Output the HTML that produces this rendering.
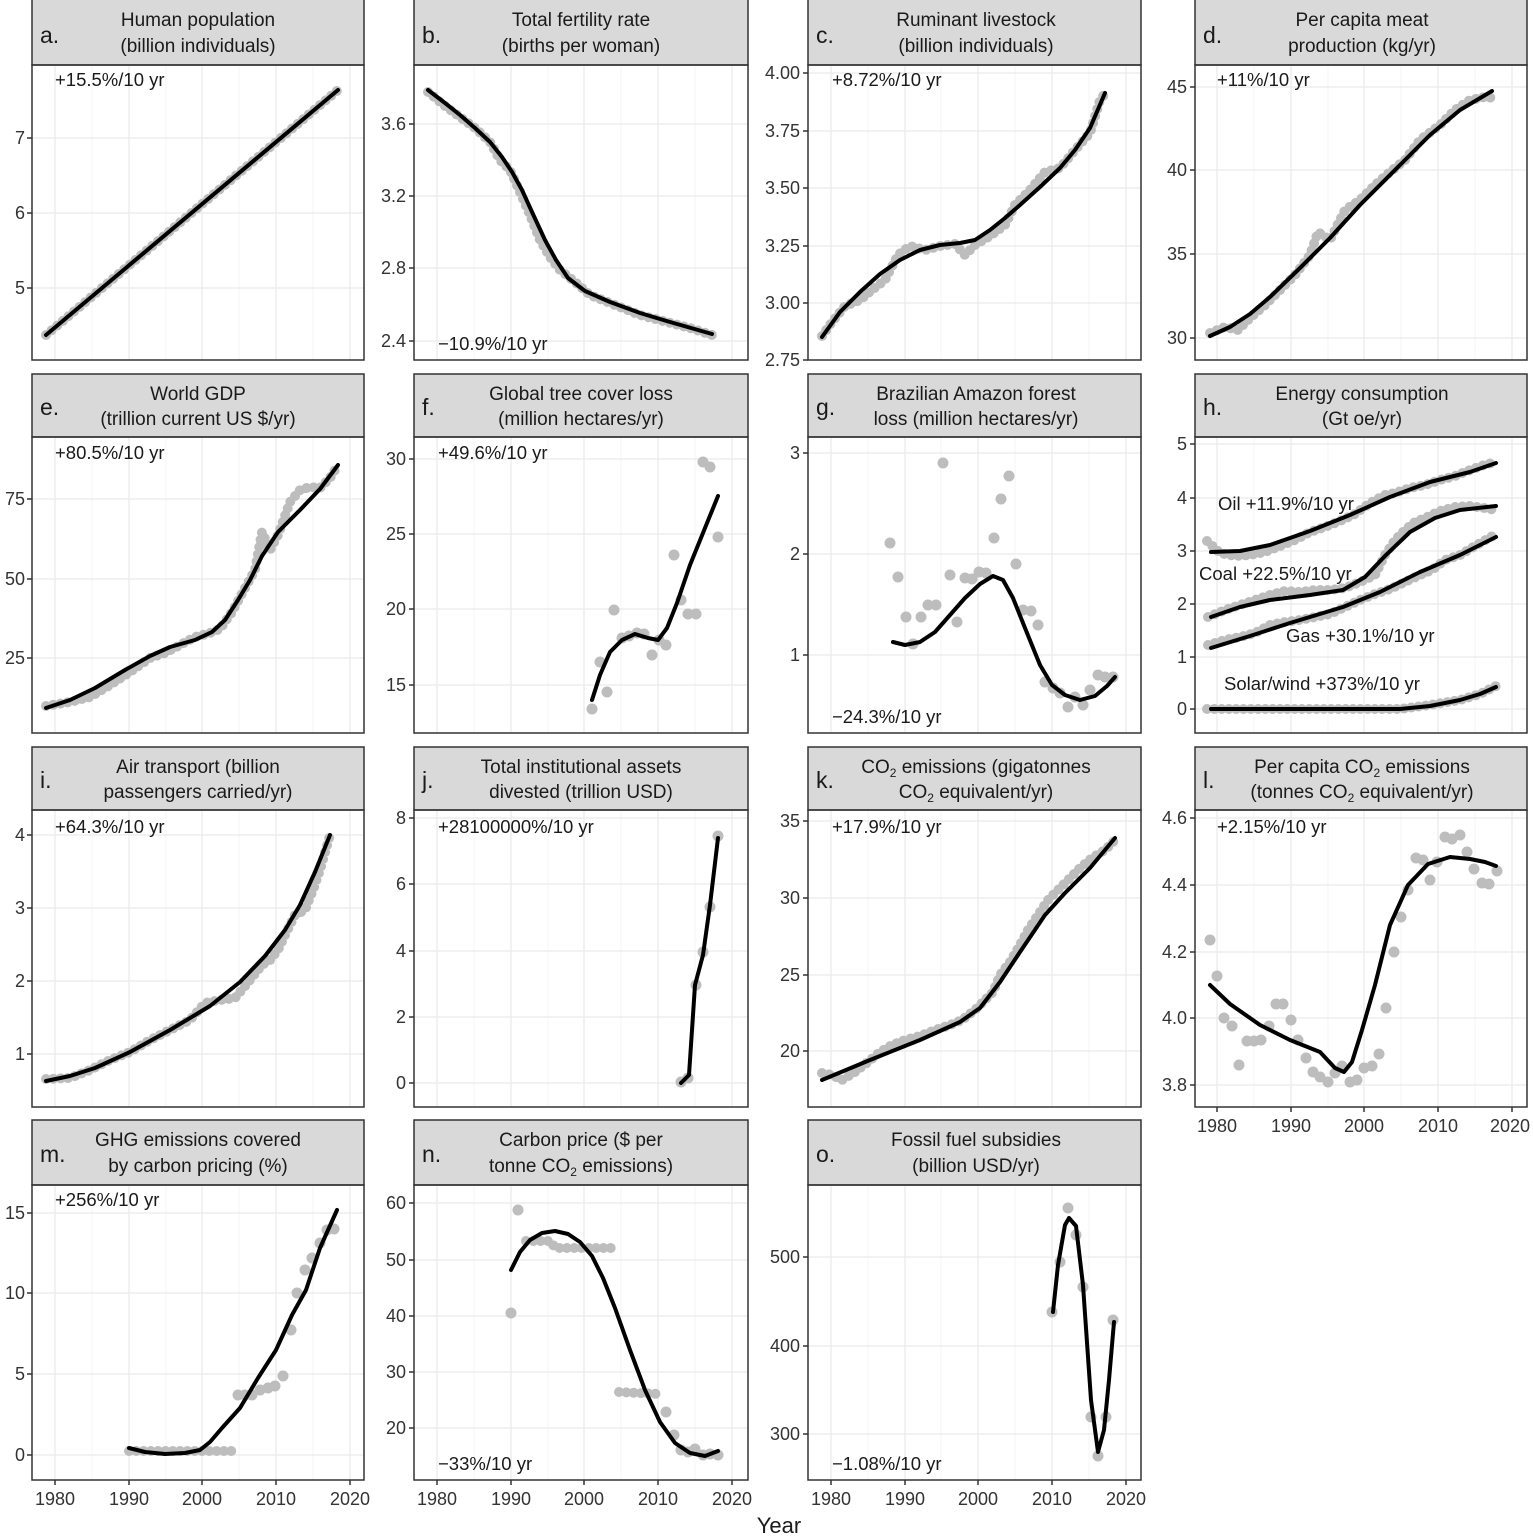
<!DOCTYPE html>
<html><head><meta charset="utf-8"><style>
html,body{margin:0;padding:0;background:#fff}
svg{display:block}
text{font-family:"Liberation Sans",Arial,sans-serif;fill:#1a1a1a}
.t{font-size:18.5px}
.h{font-size:19px;text-anchor:middle}
.l{font-size:23px}
.y{font-size:18px;text-anchor:end;fill:#333}
.x{font-size:18px;text-anchor:middle;fill:#333}
.s{fill:#d9d9d9;stroke:#333;stroke-width:1.5}
.p{fill:none;stroke:#333;stroke-width:1.5}
.g line{stroke:#ebebeb;stroke-width:1.3}
.m line{stroke:#f4f4f4;stroke-width:1}
.k line{stroke:#333;stroke-width:1.5}
.d{fill:none;stroke:#bdbdbd;stroke-width:10;stroke-linecap:round;stroke-dasharray:0 7.3}
.c circle{fill:#bdbdbd}
.ln{fill:none;stroke:#000;stroke-width:4;stroke-linejoin:round;stroke-linecap:round}
</style></head><body>
<svg width="1533" height="1536" viewBox="0 0 1533 1536" xmlns="http://www.w3.org/2000/svg">

<g class="m">
<line x1="92" y1="66" x2="92" y2="1480"/><line x1="166" y1="66" x2="166" y2="1480"/><line x1="239" y1="66" x2="239" y2="1480"/><line x1="313" y1="66" x2="313" y2="1480"/>
<line x1="474" y1="66" x2="474" y2="1480"/><line x1="548" y1="66" x2="548" y2="1480"/><line x1="621" y1="66" x2="621" y2="1480"/><line x1="695" y1="66" x2="695" y2="1480"/>
<line x1="868" y1="66" x2="868" y2="1480"/><line x1="941" y1="66" x2="941" y2="1480"/><line x1="1015" y1="66" x2="1015" y2="1480"/><line x1="1089" y1="66" x2="1089" y2="1480"/>
<line x1="1254" y1="66" x2="1254" y2="1107"/><line x1="1328" y1="66" x2="1328" y2="1107"/><line x1="1401" y1="66" x2="1401" y2="1107"/><line x1="1475" y1="66" x2="1475" y2="1107"/>
</g>
<g class="g">
<line x1="55" y1="66" x2="55" y2="1480"/><line x1="129" y1="66" x2="129" y2="1480"/><line x1="202" y1="66" x2="202" y2="1480"/><line x1="276" y1="66" x2="276" y2="1480"/><line x1="350" y1="66" x2="350" y2="1480"/>
<line x1="437" y1="66" x2="437" y2="1480"/><line x1="511" y1="66" x2="511" y2="1480"/><line x1="584" y1="66" x2="584" y2="1480"/><line x1="658" y1="66" x2="658" y2="1480"/><line x1="732" y1="66" x2="732" y2="1480"/>
<line x1="831" y1="66" x2="831" y2="1480"/><line x1="905" y1="66" x2="905" y2="1480"/><line x1="978" y1="66" x2="978" y2="1480"/><line x1="1052" y1="66" x2="1052" y2="1480"/><line x1="1126" y1="66" x2="1126" y2="1480"/>
<line x1="1217" y1="66" x2="1217" y2="1107"/><line x1="1291" y1="66" x2="1291" y2="1107"/><line x1="1364" y1="66" x2="1364" y2="1107"/><line x1="1438" y1="66" x2="1438" y2="1107"/><line x1="1512" y1="66" x2="1512" y2="1107"/>
</g>
<rect x="0" y="360" width="1533" height="78" fill="#fff"/>
<rect x="0" y="733" width="1533" height="78" fill="#fff"/>
<rect x="0" y="1107" width="1533" height="79" fill="#fff"/>

<g class="g">
<line x1="32" y1="138" x2="364" y2="138"/><line x1="32" y1="213" x2="364" y2="213"/><line x1="32" y1="288" x2="364" y2="288"/>
<line x1="414" y1="124" x2="748" y2="124"/><line x1="414" y1="196" x2="748" y2="196"/><line x1="414" y1="268" x2="748" y2="268"/><line x1="414" y1="341" x2="748" y2="341"/>
<line x1="808" y1="73" x2="1141" y2="73"/><line x1="808" y1="131" x2="1141" y2="131"/><line x1="808" y1="188" x2="1141" y2="188"/><line x1="808" y1="246" x2="1141" y2="246"/><line x1="808" y1="303" x2="1141" y2="303"/>
<line x1="1195" y1="87" x2="1527" y2="87"/><line x1="1195" y1="170" x2="1527" y2="170"/><line x1="1195" y1="254" x2="1527" y2="254"/><line x1="1195" y1="338" x2="1527" y2="338"/>
<line x1="32" y1="499" x2="364" y2="499"/><line x1="32" y1="579" x2="364" y2="579"/><line x1="32" y1="658" x2="364" y2="658"/>
<line x1="414" y1="459" x2="748" y2="459"/><line x1="414" y1="534" x2="748" y2="534"/><line x1="414" y1="609" x2="748" y2="609"/><line x1="414" y1="685" x2="748" y2="685"/>
<line x1="808" y1="453" x2="1141" y2="453"/><line x1="808" y1="554" x2="1141" y2="554"/><line x1="808" y1="655" x2="1141" y2="655"/>
<line x1="1195" y1="444" x2="1527" y2="444"/><line x1="1195" y1="498" x2="1527" y2="498"/><line x1="1195" y1="551" x2="1527" y2="551"/><line x1="1195" y1="604" x2="1527" y2="604"/><line x1="1195" y1="657" x2="1527" y2="657"/><line x1="1195" y1="709" x2="1527" y2="709"/>
<line x1="32" y1="835" x2="364" y2="835"/><line x1="32" y1="908" x2="364" y2="908"/><line x1="32" y1="981" x2="364" y2="981"/><line x1="32" y1="1054" x2="364" y2="1054"/>
<line x1="414" y1="818" x2="748" y2="818"/><line x1="414" y1="884" x2="748" y2="884"/><line x1="414" y1="951" x2="748" y2="951"/><line x1="414" y1="1017" x2="748" y2="1017"/><line x1="414" y1="1083" x2="748" y2="1083"/>
<line x1="808" y1="821" x2="1141" y2="821"/><line x1="808" y1="898" x2="1141" y2="898"/><line x1="808" y1="975" x2="1141" y2="975"/><line x1="808" y1="1051" x2="1141" y2="1051"/>
<line x1="1195" y1="818" x2="1527" y2="818"/><line x1="1195" y1="885" x2="1527" y2="885"/><line x1="1195" y1="952" x2="1527" y2="952"/><line x1="1195" y1="1018" x2="1527" y2="1018"/><line x1="1195" y1="1085" x2="1527" y2="1085"/>
<line x1="32" y1="1213" x2="364" y2="1213"/><line x1="32" y1="1293" x2="364" y2="1293"/><line x1="32" y1="1374" x2="364" y2="1374"/><line x1="32" y1="1455" x2="364" y2="1455"/>
<line x1="414" y1="1203" x2="748" y2="1203"/><line x1="414" y1="1260" x2="748" y2="1260"/><line x1="414" y1="1316" x2="748" y2="1316"/><line x1="414" y1="1372" x2="748" y2="1372"/><line x1="414" y1="1428" x2="748" y2="1428"/>
<line x1="808" y1="1257" x2="1141" y2="1257"/><line x1="808" y1="1346" x2="1141" y2="1346"/><line x1="808" y1="1434" x2="1141" y2="1434"/>
</g>

<g>
<rect class="s" x="32" y="-2" width="332" height="67"/><rect class="p" x="32" y="65" width="332" height="295"/>
<rect class="s" x="414" y="-2" width="334" height="67"/><rect class="p" x="414" y="65" width="334" height="295"/>
<rect class="s" x="808" y="-2" width="333" height="67"/><rect class="p" x="808" y="65" width="333" height="295"/>
<rect class="s" x="1195" y="-2" width="332" height="67"/><rect class="p" x="1195" y="65" width="332" height="295"/>
<rect class="s" x="32" y="374" width="332" height="63"/><rect class="p" x="32" y="437" width="332" height="296"/>
<rect class="s" x="414" y="374" width="334" height="63"/><rect class="p" x="414" y="437" width="334" height="296"/>
<rect class="s" x="808" y="374" width="333" height="63"/><rect class="p" x="808" y="437" width="333" height="296"/>
<rect class="s" x="1195" y="374" width="332" height="63"/><rect class="p" x="1195" y="437" width="332" height="296"/>
<rect class="s" x="32" y="747" width="332" height="63"/><rect class="p" x="32" y="810" width="332" height="297"/>
<rect class="s" x="414" y="747" width="334" height="63"/><rect class="p" x="414" y="810" width="334" height="297"/>
<rect class="s" x="808" y="747" width="333" height="63"/><rect class="p" x="808" y="810" width="333" height="297"/>
<rect class="s" x="1195" y="747" width="332" height="63"/><rect class="p" x="1195" y="810" width="332" height="297"/>
<rect class="s" x="32" y="1120" width="332" height="65"/><rect class="p" x="32" y="1185" width="332" height="295"/>
<rect class="s" x="414" y="1120" width="334" height="65"/><rect class="p" x="414" y="1185" width="334" height="295"/>
<rect class="s" x="808" y="1120" width="333" height="65"/><rect class="p" x="808" y="1185" width="333" height="295"/>
</g>

<g>
<text class="l" x="40" y="43">a.</text><text class="h" x="198" y="26">Human population</text><text class="h" x="198" y="52">(billion individuals)</text>
<text class="l" x="422" y="43">b.</text><text class="h" x="581" y="26">Total fertility rate</text><text class="h" x="581" y="52">(births per woman)</text>
<text class="l" x="816" y="43">c.</text><text class="h" x="976" y="26">Ruminant livestock</text><text class="h" x="976" y="52">(billion individuals)</text>
<text class="l" x="1203" y="43">d.</text><text class="h" x="1362" y="26">Per capita meat</text><text class="h" x="1362" y="52">production (kg/yr)</text>
<text class="l" x="40" y="415">e.</text><text class="h" x="198" y="400">World GDP</text><text class="h" x="198" y="425">(trillion current US $/yr)</text>
<text class="l" x="422" y="415">f.</text><text class="h" x="581" y="400">Global tree cover loss</text><text class="h" x="581" y="425">(million hectares/yr)</text>
<text class="l" x="816" y="415">g.</text><text class="h" x="976" y="400">Brazilian Amazon forest</text><text class="h" x="976" y="425">loss (million hectares/yr)</text>
<text class="l" x="1203" y="415">h.</text><text class="h" x="1362" y="400">Energy consumption</text><text class="h" x="1362" y="425">(Gt oe/yr)</text>
<text class="l" x="40" y="788">i.</text><text class="h" x="198" y="773">Air transport (billion</text><text class="h" x="198" y="798">passengers carried/yr)</text>
<text class="l" x="422" y="788">j.</text><text class="h" x="581" y="773">Total institutional assets</text><text class="h" x="581" y="798">divested (trillion USD)</text>
<text class="l" x="816" y="788">k.</text><text class="h" x="976" y="773">CO<tspan font-size="12" dy="4">2</tspan><tspan dy="-4"> emissions (gigatonnes</tspan></text><text class="h" x="976" y="798">CO<tspan font-size="12" dy="4">2</tspan><tspan dy="-4"> equivalent/yr)</tspan></text>
<text class="l" x="1203" y="788">l.</text><text class="h" x="1362" y="773">Per capita CO<tspan font-size="12" dy="4">2</tspan><tspan dy="-4"> emissions</tspan></text><text class="h" x="1362" y="798">(tonnes CO<tspan font-size="12" dy="4">2</tspan><tspan dy="-4"> equivalent/yr)</tspan></text>
<text class="l" x="40" y="1162">m.</text><text class="h" x="198" y="1146">GHG emissions covered</text><text class="h" x="198" y="1172">by carbon pricing (%)</text>
<text class="l" x="422" y="1162">n.</text><text class="h" x="581" y="1146">Carbon price ($ per</text><text class="h" x="581" y="1172">tonne CO<tspan font-size="12" dy="4">2</tspan><tspan dy="-4"> emissions)</tspan></text>
<text class="l" x="816" y="1162">o.</text><text class="h" x="976" y="1146">Fossil fuel subsidies</text><text class="h" x="976" y="1172">(billion USD/yr)</text>
</g>

<g class="k">
<line x1="27" y1="138" x2="32" y2="138"/><line x1="27" y1="213" x2="32" y2="213"/><line x1="27" y1="288" x2="32" y2="288"/>
<line x1="409" y1="124" x2="414" y2="124"/><line x1="409" y1="196" x2="414" y2="196"/><line x1="409" y1="268" x2="414" y2="268"/><line x1="409" y1="341" x2="414" y2="341"/>
<line x1="803" y1="73" x2="808" y2="73"/><line x1="803" y1="131" x2="808" y2="131"/><line x1="803" y1="188" x2="808" y2="188"/><line x1="803" y1="246" x2="808" y2="246"/><line x1="803" y1="303" x2="808" y2="303"/><line x1="803" y1="360" x2="808" y2="360"/>
<line x1="1190" y1="87" x2="1195" y2="87"/><line x1="1190" y1="170" x2="1195" y2="170"/><line x1="1190" y1="254" x2="1195" y2="254"/><line x1="1190" y1="338" x2="1195" y2="338"/>
<line x1="27" y1="499" x2="32" y2="499"/><line x1="27" y1="579" x2="32" y2="579"/><line x1="27" y1="658" x2="32" y2="658"/>
<line x1="409" y1="459" x2="414" y2="459"/><line x1="409" y1="534" x2="414" y2="534"/><line x1="409" y1="609" x2="414" y2="609"/><line x1="409" y1="685" x2="414" y2="685"/>
<line x1="803" y1="453" x2="808" y2="453"/><line x1="803" y1="554" x2="808" y2="554"/><line x1="803" y1="655" x2="808" y2="655"/>
<line x1="1190" y1="444" x2="1195" y2="444"/><line x1="1190" y1="498" x2="1195" y2="498"/><line x1="1190" y1="551" x2="1195" y2="551"/><line x1="1190" y1="604" x2="1195" y2="604"/><line x1="1190" y1="657" x2="1195" y2="657"/><line x1="1190" y1="709" x2="1195" y2="709"/>
<line x1="27" y1="835" x2="32" y2="835"/><line x1="27" y1="908" x2="32" y2="908"/><line x1="27" y1="981" x2="32" y2="981"/><line x1="27" y1="1054" x2="32" y2="1054"/>
<line x1="409" y1="818" x2="414" y2="818"/><line x1="409" y1="884" x2="414" y2="884"/><line x1="409" y1="951" x2="414" y2="951"/><line x1="409" y1="1017" x2="414" y2="1017"/><line x1="409" y1="1083" x2="414" y2="1083"/>
<line x1="803" y1="821" x2="808" y2="821"/><line x1="803" y1="898" x2="808" y2="898"/><line x1="803" y1="975" x2="808" y2="975"/><line x1="803" y1="1051" x2="808" y2="1051"/>
<line x1="1190" y1="818" x2="1195" y2="818"/><line x1="1190" y1="885" x2="1195" y2="885"/><line x1="1190" y1="952" x2="1195" y2="952"/><line x1="1190" y1="1018" x2="1195" y2="1018"/><line x1="1190" y1="1085" x2="1195" y2="1085"/>
<line x1="27" y1="1213" x2="32" y2="1213"/><line x1="27" y1="1293" x2="32" y2="1293"/><line x1="27" y1="1374" x2="32" y2="1374"/><line x1="27" y1="1455" x2="32" y2="1455"/>
<line x1="409" y1="1203" x2="414" y2="1203"/><line x1="409" y1="1260" x2="414" y2="1260"/><line x1="409" y1="1316" x2="414" y2="1316"/><line x1="409" y1="1372" x2="414" y2="1372"/><line x1="409" y1="1428" x2="414" y2="1428"/>
<line x1="803" y1="1257" x2="808" y2="1257"/><line x1="803" y1="1346" x2="808" y2="1346"/><line x1="803" y1="1434" x2="808" y2="1434"/>
<line x1="1217" y1="1107" x2="1217" y2="1112"/><line x1="1291" y1="1107" x2="1291" y2="1112"/><line x1="1364" y1="1107" x2="1364" y2="1112"/><line x1="1438" y1="1107" x2="1438" y2="1112"/><line x1="1512" y1="1107" x2="1512" y2="1112"/>
<line x1="55" y1="1480" x2="55" y2="1485"/><line x1="129" y1="1480" x2="129" y2="1485"/><line x1="202" y1="1480" x2="202" y2="1485"/><line x1="276" y1="1480" x2="276" y2="1485"/><line x1="350" y1="1480" x2="350" y2="1485"/>
<line x1="437" y1="1480" x2="437" y2="1485"/><line x1="511" y1="1480" x2="511" y2="1485"/><line x1="584" y1="1480" x2="584" y2="1485"/><line x1="658" y1="1480" x2="658" y2="1485"/><line x1="732" y1="1480" x2="732" y2="1485"/>
<line x1="831" y1="1480" x2="831" y2="1485"/><line x1="905" y1="1480" x2="905" y2="1485"/><line x1="978" y1="1480" x2="978" y2="1485"/><line x1="1052" y1="1480" x2="1052" y2="1485"/><line x1="1126" y1="1480" x2="1126" y2="1485"/>
</g>

<g>
<text class="y" x="25" y="144">7</text><text class="y" x="25" y="219">6</text><text class="y" x="25" y="294">5</text>
<text class="y" x="406" y="130">3.6</text><text class="y" x="406" y="202">3.2</text><text class="y" x="406" y="274">2.8</text><text class="y" x="406" y="347">2.4</text>
<text class="y" x="800" y="79">4.00</text><text class="y" x="800" y="137">3.75</text><text class="y" x="800" y="194">3.50</text><text class="y" x="800" y="252">3.25</text><text class="y" x="800" y="309">3.00</text><text class="y" x="800" y="366">2.75</text>
<text class="y" x="1187" y="93">45</text><text class="y" x="1187" y="176">40</text><text class="y" x="1187" y="260">35</text><text class="y" x="1187" y="344">30</text>
<text class="y" x="25" y="505">75</text><text class="y" x="25" y="585">50</text><text class="y" x="25" y="664">25</text>
<text class="y" x="406" y="465">30</text><text class="y" x="406" y="540">25</text><text class="y" x="406" y="615">20</text><text class="y" x="406" y="691">15</text>
<text class="y" x="800" y="459">3</text><text class="y" x="800" y="560">2</text><text class="y" x="800" y="661">1</text>
<text class="y" x="1187" y="450">5</text><text class="y" x="1187" y="504">4</text><text class="y" x="1187" y="557">3</text><text class="y" x="1187" y="610">2</text><text class="y" x="1187" y="663">1</text><text class="y" x="1187" y="715">0</text>
<text class="y" x="25" y="841">4</text><text class="y" x="25" y="914">3</text><text class="y" x="25" y="987">2</text><text class="y" x="25" y="1060">1</text>
<text class="y" x="406" y="824">8</text><text class="y" x="406" y="890">6</text><text class="y" x="406" y="957">4</text><text class="y" x="406" y="1023">2</text><text class="y" x="406" y="1089">0</text>
<text class="y" x="800" y="827">35</text><text class="y" x="800" y="904">30</text><text class="y" x="800" y="981">25</text><text class="y" x="800" y="1057">20</text>
<text class="y" x="1187" y="824">4.6</text><text class="y" x="1187" y="891">4.4</text><text class="y" x="1187" y="958">4.2</text><text class="y" x="1187" y="1024">4.0</text><text class="y" x="1187" y="1091">3.8</text>
<text class="y" x="25" y="1219">15</text><text class="y" x="25" y="1299">10</text><text class="y" x="25" y="1380">5</text><text class="y" x="25" y="1461">0</text>
<text class="y" x="406" y="1209">60</text><text class="y" x="406" y="1266">50</text><text class="y" x="406" y="1322">40</text><text class="y" x="406" y="1378">30</text><text class="y" x="406" y="1434">20</text>
<text class="y" x="800" y="1263">500</text><text class="y" x="800" y="1352">400</text><text class="y" x="800" y="1440">300</text>
</g>

<g>
<text class="x" x="1217" y="1132">1980</text><text class="x" x="1291" y="1132">1990</text><text class="x" x="1364" y="1132">2000</text><text class="x" x="1438" y="1132">2010</text><text class="x" x="1510" y="1132">2020</text>
<text class="x" x="55" y="1505">1980</text><text class="x" x="129" y="1505">1990</text><text class="x" x="202" y="1505">2000</text><text class="x" x="276" y="1505">2010</text><text class="x" x="350" y="1505">2020</text>
<text class="x" x="437" y="1505">1980</text><text class="x" x="511" y="1505">1990</text><text class="x" x="584" y="1505">2000</text><text class="x" x="658" y="1505">2010</text><text class="x" x="732" y="1505">2020</text>
<text class="x" x="831" y="1505">1980</text><text class="x" x="905" y="1505">1990</text><text class="x" x="978" y="1505">2000</text><text class="x" x="1052" y="1505">2010</text><text class="x" x="1126" y="1505">2020</text>
<text x="779" y="1533" style="font-size:22px;text-anchor:middle">Year</text>
</g>

<g class="t">
<text x="55" y="86">+15.5%/10 yr</text><text x="438" y="350">−10.9%/10 yr</text><text x="832" y="86">+8.72%/10 yr</text><text x="1217" y="86">+11%/10 yr</text>
<text x="55" y="459">+80.5%/10 yr</text><text x="438" y="459">+49.6%/10 yr</text><text x="832" y="723">−24.3%/10 yr</text>
<text x="1218" y="510">Oil +11.9%/10 yr</text><text x="1199" y="580">Coal +22.5%/10 yr</text><text x="1286" y="642">Gas +30.1%/10 yr</text><text x="1224" y="690">Solar/wind +373%/10 yr</text>
<text x="55" y="833">+64.3%/10 yr</text><text x="438" y="833">+28100000%/10 yr</text><text x="832" y="833">+17.9%/10 yr</text><text x="1217" y="833">+2.15%/10 yr</text>
<text x="55" y="1206">+256%/10 yr</text><text x="438" y="1470">−33%/10 yr</text><text x="832" y="1470">−1.08%/10 yr</text>
</g>

<!-- a -->
<polyline class="d" points="46,335 338,90"/>
<polyline class="ln" points="46,335 338,90"/>
<!-- b -->
<polyline class="d" points="428,92 445,106 460,117 475,128 490,142 500,160 510,170 520,192 530,215 540,240 550,257 560,270 575,282 590,295 640,315 690,328 712,335"/>
<polyline class="ln" points="428,90 445,103 460,115 475,128 490,142 502,157 512,172 522,190 532,212 545,240 556,260 568,278 585,291 610,302 640,313 670,322 712,334"/>
<!-- c -->
<polyline class="d" points="822,336 832,322 845,306 860,300 872,290 885,280 898,255 910,246 925,250 940,246 955,244 965,255 975,245 990,236 1005,225 1015,205 1030,190 1045,172 1060,168 1075,150 1090,133 1100,100 1107,91"/>
<polyline class="ln" points="822,337 840,312 860,292 880,274 900,260 920,250 940,245 960,243 975,240 990,230 1005,218 1020,205 1040,187 1060,168 1075,150 1090,128 1105,93"/>
<!-- d -->
<polyline class="d" points="1210,333 1225,327 1238,330 1250,318 1265,305 1280,290 1295,275 1310,255 1318,232 1330,240 1345,210 1360,200 1375,185 1390,172 1405,160 1420,140 1440,125 1455,110 1470,100 1485,97 1494,98"/>
<polyline class="ln" points="1210,336 1230,327 1250,314 1270,297 1300,268 1330,238 1360,205 1400,165 1430,135 1460,110 1492,91"/>
<!-- e -->
<polyline class="d" points="46,706 70,702 90,697 110,685 130,672 150,658 165,653 180,645 195,637 210,633 220,629 232,612 245,588 255,570 262,532 270,550 278,535 290,502 300,490 310,487 320,488 330,478 338,465"/>
<polyline class="ln" points="46,708 70,700 95,688 125,670 150,656 170,647 195,640 212,632 225,620 238,600 250,580 262,556 278,532 300,510 320,489 338,465"/>
<!-- f -->
<g class="c"><circle cx="592" cy="709" r="5.5"/><circle cx="600" cy="662" r="5.5"/><circle cx="607" cy="692" r="5.5"/><circle cx="614" cy="610" r="5.5"/><circle cx="622" cy="638" r="5.5"/><circle cx="629" cy="636" r="5.5"/><circle cx="637" cy="633" r="5.5"/><circle cx="644" cy="634" r="5.5"/><circle cx="652" cy="655" r="5.5"/><circle cx="659" cy="640" r="5.5"/><circle cx="666" cy="645" r="5.5"/><circle cx="674" cy="555" r="5.5"/><circle cx="681" cy="600" r="5.5"/><circle cx="688" cy="614" r="5.5"/><circle cx="696" cy="614" r="5.5"/><circle cx="703" cy="462" r="5.5"/><circle cx="710" cy="467" r="5.5"/><circle cx="718" cy="537" r="5.5"/></g>
<polyline class="ln" points="592,700 600,675 610,652 622,640 635,634 648,638 658,640 667,628 677,603 690,565 705,528 718,496"/>
<!-- g -->
<g class="c"><circle cx="890" cy="543" r="5.5"/><circle cx="898" cy="577" r="5.5"/><circle cx="906" cy="617" r="5.5"/><circle cx="913" cy="644" r="5.5"/><circle cx="921" cy="617" r="5.5"/><circle cx="928" cy="605" r="5.5"/><circle cx="936" cy="605" r="5.5"/><circle cx="943" cy="463" r="5.5"/><circle cx="950" cy="575" r="5.5"/><circle cx="957" cy="622" r="5.5"/><circle cx="965" cy="578" r="5.5"/><circle cx="972" cy="579" r="5.5"/><circle cx="979" cy="572" r="5.5"/><circle cx="986" cy="573" r="5.5"/><circle cx="994" cy="538" r="5.5"/><circle cx="1001" cy="499" r="5.5"/><circle cx="1009" cy="476" r="5.5"/><circle cx="1016" cy="564" r="5.5"/><circle cx="1023" cy="610" r="5.5"/><circle cx="1031" cy="611" r="5.5"/><circle cx="1038" cy="625" r="5.5"/><circle cx="1045" cy="682" r="5.5"/><circle cx="1053" cy="688" r="5.5"/><circle cx="1060" cy="693" r="5.5"/><circle cx="1068" cy="707" r="5.5"/><circle cx="1075" cy="697" r="5.5"/><circle cx="1083" cy="705" r="5.5"/><circle cx="1090" cy="690" r="5.5"/><circle cx="1098" cy="675" r="5.5"/><circle cx="1105" cy="677" r="5.5"/><circle cx="1113" cy="677" r="5.5"/></g>
<polyline class="ln" points="893,642 905,645 920,642 935,632 950,615 965,598 980,584 993,576 1003,580 1013,598 1025,628 1040,665 1052,685 1065,695 1080,700 1095,696 1107,686 1115,677"/>
<!-- h -->
<polyline class="d" points="1207,541 1220,553 1235,556 1250,555 1265,552 1280,546 1295,540 1310,532 1325,527 1340,521 1355,514 1370,503 1385,495 1395,493 1410,488 1425,485 1440,480 1455,476 1470,470 1484,465 1496,462"/>
<polyline class="ln" points="1211,552 1240,551 1270,545 1310,531 1350,515 1390,497 1430,482 1470,472 1496,463"/>
<polyline class="d" points="1208,617 1225,610 1240,605 1255,600 1270,595 1285,591 1300,592 1315,590 1330,590 1345,588 1360,582 1375,575 1385,555 1395,540 1405,530 1415,522 1425,518 1440,511 1455,507 1470,506 1484,508 1496,510"/>
<polyline class="ln" points="1211,617 1240,607 1270,600 1310,595 1343,590 1365,577 1385,556 1410,532 1435,518 1460,510 1496,506"/>
<polyline class="d" points="1208,645 1225,640 1240,637 1255,633 1270,625 1285,622 1300,620 1315,617 1330,614 1345,607 1360,600 1375,594 1390,589 1405,582 1420,575 1432,570 1445,560 1460,555 1475,546 1496,534"/>
<polyline class="ln" points="1211,648 1250,636 1290,623 1343,607 1380,592 1420,572 1460,555 1496,537"/>
<polyline class="d" points="1207,709 1400,709 1430,705 1460,700 1480,694 1496,686"/>
<polyline class="ln" points="1211,709 1400,709 1430,706 1460,700 1480,694 1496,687"/>
<!-- i -->
<polyline class="d" points="46,1079 70,1078 90,1070 110,1060 130,1052 150,1040 170,1030 190,1020 205,1003 220,1000 235,998 250,980 262,965 270,960 278,950 285,935 295,915 305,910 313,890 320,870 330,835"/>
<polyline class="ln" points="46,1081 70,1076 95,1068 130,1052 170,1030 210,1006 240,982 265,956 285,930 300,905 315,872 330,835"/>
<!-- j -->
<g class="c"><circle cx="681" cy="1082" r="5.5"/><circle cx="688" cy="1078" r="5.5"/><circle cx="696" cy="985" r="5.5"/><circle cx="703" cy="952" r="5.5"/><circle cx="710" cy="907" r="5.5"/><circle cx="718" cy="836" r="5.5"/></g>
<polyline class="ln" points="681,1083 689,1075 695,985 703,955 710,905 718,838"/>
<!-- k -->
<polyline class="d" points="822,1073 832,1075 842,1080 855,1072 868,1062 880,1052 892,1045 905,1040 920,1036 935,1030 950,1025 962,1020 975,1010 985,1000 993,992 1000,975 1010,962 1020,945 1028,930 1038,915 1048,900 1060,888 1070,878 1080,868 1092,858 1105,850 1115,840"/>
<polyline class="ln" points="822,1080 870,1060 920,1040 960,1022 980,1008 1000,982 1020,952 1045,915 1065,893 1090,868 1115,838"/>
<!-- l -->
<g class="c"><circle cx="1210" cy="940" r="5.5"/><circle cx="1217" cy="976" r="5.5"/><circle cx="1224" cy="1018" r="5.5"/><circle cx="1232" cy="1026" r="5.5"/><circle cx="1239" cy="1065" r="5.5"/><circle cx="1247" cy="1041" r="5.5"/><circle cx="1254" cy="1041" r="5.5"/><circle cx="1261" cy="1040" r="5.5"/><circle cx="1269" cy="1026" r="5.5"/><circle cx="1276" cy="1004" r="5.5"/><circle cx="1283" cy="1004" r="5.5"/><circle cx="1291" cy="1020" r="5.5"/><circle cx="1298" cy="1040" r="5.5"/><circle cx="1306" cy="1058" r="5.5"/><circle cx="1313" cy="1072" r="5.5"/><circle cx="1320" cy="1077" r="5.5"/><circle cx="1328" cy="1082" r="5.5"/><circle cx="1335" cy="1073" r="5.5"/><circle cx="1342" cy="1066" r="5.5"/><circle cx="1350" cy="1082" r="5.5"/><circle cx="1357" cy="1080" r="5.5"/><circle cx="1364" cy="1068" r="5.5"/><circle cx="1372" cy="1066" r="5.5"/><circle cx="1379" cy="1054" r="5.5"/><circle cx="1386" cy="1008" r="5.5"/><circle cx="1394" cy="952" r="5.5"/><circle cx="1401" cy="917" r="5.5"/><circle cx="1408" cy="890" r="5.5"/><circle cx="1416" cy="858" r="5.5"/><circle cx="1423" cy="860" r="5.5"/><circle cx="1430" cy="880" r="5.5"/><circle cx="1437" cy="862" r="5.5"/><circle cx="1445" cy="837" r="5.5"/><circle cx="1452" cy="839" r="5.5"/><circle cx="1460" cy="835" r="5.5"/><circle cx="1467" cy="852" r="5.5"/><circle cx="1474" cy="869" r="5.5"/><circle cx="1482" cy="883" r="5.5"/><circle cx="1489" cy="884" r="5.5"/><circle cx="1497" cy="871" r="5.5"/></g>
<polyline class="ln" points="1210,985 1230,1004 1260,1025 1290,1040 1320,1052 1335,1068 1344,1072 1352,1062 1362,1030 1375,985 1390,925 1408,885 1428,864 1450,857 1470,859 1485,862 1496,866"/>
<!-- m -->
<polyline class="d" points="129,1451 234,1451"/>
<g class="c"><circle cx="238" cy="1395" r="5.5"/><circle cx="245" cy="1395" r="5.5"/><circle cx="252" cy="1395" r="5.5"/><circle cx="260" cy="1390" r="5.5"/><circle cx="268" cy="1388" r="5.5"/><circle cx="275" cy="1386" r="5.5"/><circle cx="283" cy="1376" r="5.5"/><circle cx="291" cy="1330" r="5.5"/><circle cx="297" cy="1293" r="5.5"/><circle cx="305" cy="1270" r="5.5"/><circle cx="312" cy="1258" r="5.5"/><circle cx="320" cy="1243" r="5.5"/><circle cx="327" cy="1230" r="5.5"/><circle cx="334" cy="1229" r="5.5"/></g>
<polyline class="ln" points="129,1448 145,1452 165,1454 185,1453 200,1450 210,1442 222,1428 240,1408 258,1378 276,1350 292,1315 306,1290 320,1248 337,1210"/>
<!-- n -->
<polyline class="d" points="526,1241 549,1241 556,1248 617,1248"/>
<polyline class="d" points="619,1392 660,1394"/>
<g class="c"><circle cx="511" cy="1313" r="5.5"/><circle cx="518" cy="1210" r="5.5"/><circle cx="666" cy="1412" r="5.5"/><circle cx="674" cy="1435" r="5.5"/><circle cx="681" cy="1450" r="5.5"/><circle cx="688" cy="1452" r="5.5"/><circle cx="695" cy="1449" r="5.5"/><circle cx="703" cy="1455" r="5.5"/><circle cx="710" cy="1454" r="5.5"/><circle cx="718" cy="1455" r="5.5"/></g>
<polyline class="ln" points="511,1270 520,1252 530,1240 542,1233 555,1231 568,1234 580,1242 592,1256 603,1278 615,1308 630,1350 645,1390 660,1422 675,1443 690,1453 705,1456 718,1451"/>
<!-- o -->
<g class="c"><circle cx="1052" cy="1312" r="5.5"/><circle cx="1060" cy="1262" r="5.5"/><circle cx="1068" cy="1208" r="5.5"/><circle cx="1076" cy="1235" r="5.5"/><circle cx="1083" cy="1287" r="5.5"/><circle cx="1091" cy="1417" r="5.5"/><circle cx="1098" cy="1456" r="5.5"/><circle cx="1106" cy="1417" r="5.5"/><circle cx="1113" cy="1320" r="5.5"/></g>
<polyline class="ln" points="1053,1312 1058,1265 1065,1225 1069,1218 1076,1226 1083,1285 1091,1400 1098,1452 1104,1430 1109,1380 1114,1322"/>
</svg>
</body></html>
